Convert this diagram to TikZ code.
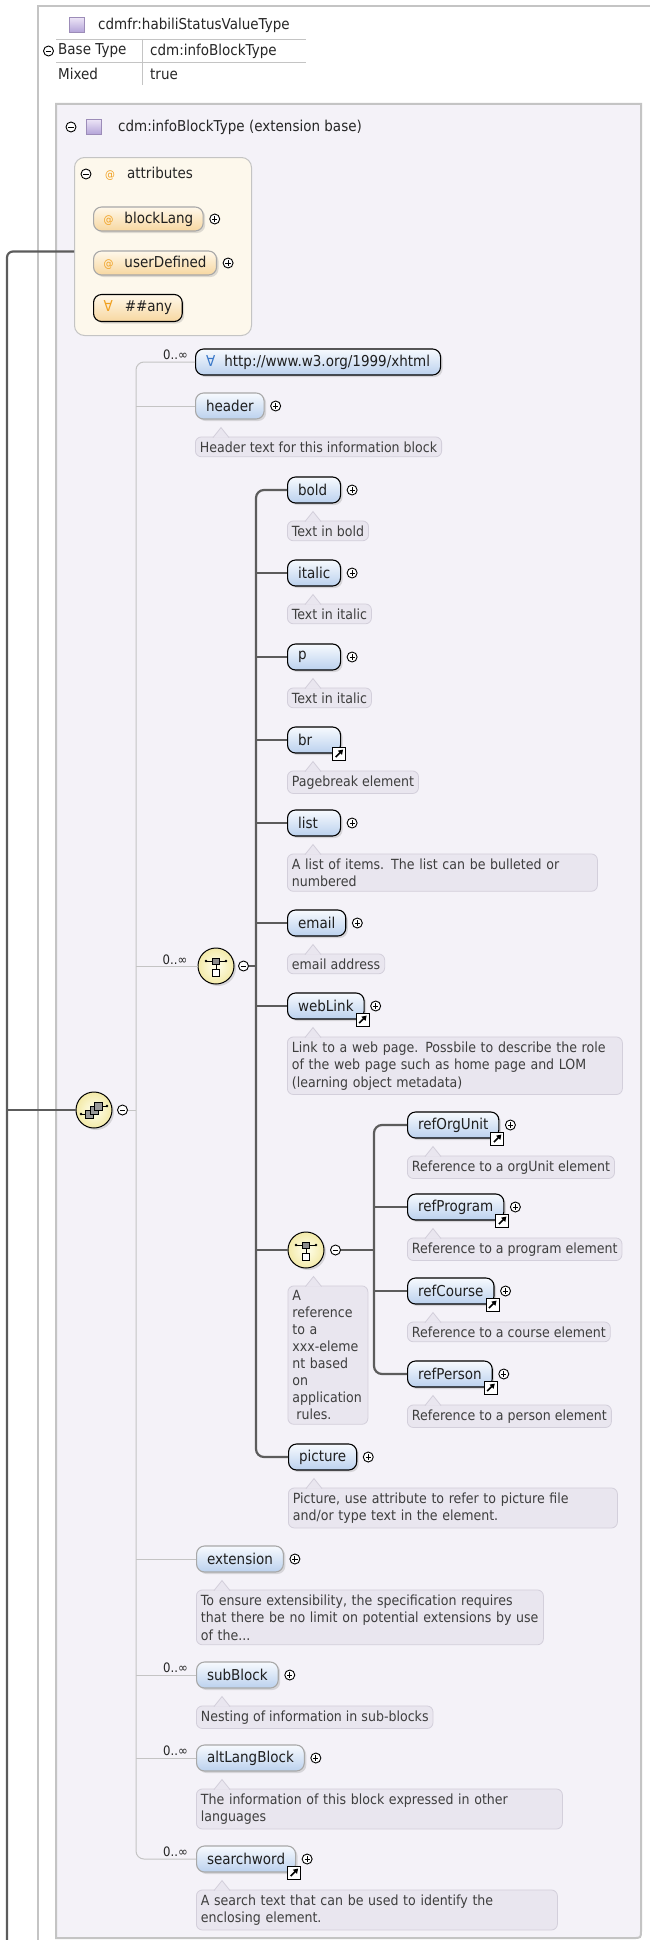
\documentclass[tikz,border=0pt]{standalone}
\usepackage{fontspec}
\setmainfont{DejaVu Sans}[FakeStretch=0.9]
\usetikzlibrary{positioning,shadows,arrows.meta}

\definecolor{innerbg}{HTML}{F4F2F8}
\definecolor{boxgray}{HTML}{C4C4C4}
\definecolor{annobg}{HTML}{E9E6EF}
\definecolor{annoline}{HTML}{D3CFDB}
\definecolor{annotext}{HTML}{3E3E3E}
\definecolor{elemtop}{HTML}{F7FAFE}
\definecolor{elembot}{HTML}{BBD1EE}
\definecolor{optline}{HTML}{A8A8A8}
\definecolor{attrtop}{HTML}{FFF8EA}
\definecolor{attrbot}{HTML}{F7D7A0}
\definecolor{attrbg}{HTML}{FDF8EC}
\definecolor{attrorange}{HTML}{F0A020}
\definecolor{wildblue}{HTML}{3A78C8}
\definecolor{compin}{HTML}{FFFFEE}
\definecolor{compout}{HTML}{F3EAA8}
\definecolor{seqgray}{HTML}{C4C4C4}
\definecolor{chgray}{HTML}{5C5C5C}
\definecolor{typetop}{HTML}{ECE4F6}
\definecolor{typebot}{HTML}{B3A3D8}
\definecolor{typeline}{HTML}{9C8CB8}

\newcommand\elemfont{\fontsize{15}{18}\selectfont}
\newcommand\annofont{\fontsize{14}{17.5}\selectfont}
\newcommand\occfont{\fontsize{13}{15}\selectfont}
\newcommand\atsign{{\fontsize{11}{12}\selectfont\color{attrorange}@}}

\tikzset{
  elem/.style={draw=black, line width=1.1pt, rounded corners=8pt,
    top color=elemtop, bottom color=elembot, minimum height=26pt,
    inner xsep=10.5pt, inner ysep=0pt, anchor=west, font=\elemfont, text=black!88,
    drop shadow={shadow xshift=2pt, shadow yshift=-2pt, opacity=.25}},
  optelem/.style={elem, draw=optline},
  shortlbl/.style={text width=32pt},
  attr/.style={elem, draw=optline, top color=attrtop, bottom color=attrbot,
    minimum height=24pt, inner xsep=10pt},
  anno/.style={draw=annoline, line width=.8pt, fill=annobg, rounded corners=6pt,
    font=\annofont, text=annotext, align=left, inner xsep=4.5pt, inner ysep=4.5pt},
  annotip/.style={fill=annobg, draw=annoline, line width=.8pt},
  compositor/.style={circle, draw=black, line width=1pt, minimum size=36pt, inner sep=0pt,
    inner color=compin, outer color=compout,
    drop shadow={shadow xshift=2pt, shadow yshift=-2pt, opacity=.25}},
  choiceicon/.style={path picture={
    \begin{scope}[shift={(path picture bounding box.center)}]
      \draw[line width=.8pt] (-10pt,5pt) -- (10pt,5pt) (0,2pt) -- (0,-3.5pt);
      \fill (-10pt,5pt) circle (1.3pt) (10pt,5pt) circle (1.3pt);
      \filldraw[fill=black!45, line width=.7pt] (-3.5pt,2pt) rectangle (3.5pt,8pt);
      \filldraw[fill=white, line width=.8pt] (-3.5pt,-3.5pt) rectangle (3.5pt,-10.5pt);
    \end{scope}}},
  seqicon/.style={path picture={
    \begin{scope}[shift={(path picture bounding box.center)}]
      \draw[line width=.8pt] (-13pt,-4pt) -- (-4.5pt,-4pt) (4.5pt,4pt) -- (13pt,4pt);
      \fill (-13pt,-4pt) circle (1.3pt) (13pt,4pt) circle (1.3pt);
      \foreach \d in {-4.5,0,4.5}
        \filldraw[fill=black!40, line width=.6pt] (\d pt-4pt,0.9*\d pt-4pt) rectangle (\d pt+4pt,0.9*\d pt+4pt);
    \end{scope}}},
  plusbtn/.style={circle, draw=black, line width=.9pt, fill=white, minimum size=10pt, inner sep=0pt,
    path picture={\draw[line width=.9pt]
      ([xshift=-2.6pt]path picture bounding box.center) -- ([xshift=2.6pt]path picture bounding box.center)
      ([yshift=-2.6pt]path picture bounding box.center) -- ([yshift=2.6pt]path picture bounding box.center);}},
  minusbtn/.style={circle, draw=black, line width=.9pt, fill=white, minimum size=10pt, inner sep=0pt,
    path picture={\draw[line width=.9pt]
      ([xshift=-2.6pt]path picture bounding box.center) -- ([xshift=2.6pt]path picture bounding box.center);}},
  linkbox/.style={draw=black, line width=.9pt, fill=white, minimum size=13pt, inner sep=0pt,
    path picture={\draw[line width=1.6pt, -{Triangle[length=4.5pt,width=5.5pt]}]
      ([shift={(-3.5pt,-3.5pt)}]path picture bounding box.center) -- ([shift={(4pt,4pt)}]path picture bounding box.center);}},
  typeicon/.style={draw=typeline, line width=.8pt, top color=typetop, bottom color=typebot,
    minimum width=15pt, minimum height=15pt, inner sep=0pt},
  toptext/.style={font=\elemfont, anchor=west, inner sep=0pt, text=black!85},
  occ/.style={font=\occfont, anchor=south east, inner sep=0pt, text=black!85},
  seqline/.style={draw=seqgray, line width=1pt},
  chline/.style={draw=chgray, line width=2.2pt}
}

\begin{document}
\begin{tikzpicture}[x=1pt, y=1pt]
\useasboundingbox (0,0) rectangle (649,-1940);

% frames
\draw[boxgray, line width=1.5pt, fill=white] (38,-6) rectangle (700,-2000);
\draw[boxgray, line width=2pt, fill=innerbg] (56,-104) -- (641,-104) -- (641,-1930)
  .. controls (641,-1938) .. (633,-1938) -- (56,-1938) -- cycle;

% type header and its table
\node[typeicon] (typeIco) at (76.5,-25) {};
\node[toptext] (typeName) at (98,-25) {cdmfr:habiliStatusValueType};
\draw[boxgray, line width=.8pt] (56,-39) -- (306,-39) (56,-62) -- (306,-62) (142,-39) -- (142,-85);
\node[minusbtn] (typeM) at (48.5,-51) {};
\node[toptext] (baseLbl) at (58,-51) {Base Type};
\node[toptext] (baseVal) at (150,-51) {cdm:infoBlockType};
\node[toptext] (mixedLbl) at (58,-74) {Mixed};
\node[toptext] (mixedVal) at (150,-74) {true};
\shade[left color=white, middle color=black!30, right color=white] (41,-89) rectangle (497,-91.5);

% extension base
\node[minusbtn] (extM) at (71,-127) {};
\node[typeicon] (extIco) at (93.5,-127) {};
\node[toptext] (extName) at (118,-127) {cdm:infoBlockType (extension base)};
\shade[left color=innerbg, middle color=black!30, right color=innerbg] (62,-142) rectangle (497,-144.5);

% attributes
\node[draw=boxgray, line width=1pt, fill=attrbg, rounded corners=10pt, minimum width=177pt,
  minimum height=178pt, anchor=north west] (attrs) at (74,-157) {};
\node[minusbtn] (attrsM) at (86,-174) {};
\node[toptext] (attrsLbl) at (105,-174) {\atsign\hspace{12pt}attributes};
\shade[left color=attrbg, middle color=black!25, right color=attrbg] (80,-191) rectangle (210,-193);
\node[attr] (blockLang) at (93,-219) {\atsign\hspace{11pt}blockLang};
\node[attr] (userDefined) at (93,-263) {\atsign\hspace{11pt}userDefined};
\node[attr, draw=black, minimum height=27pt] (anyAttr) at (93,-308) {{\color{attrorange}∀}\hspace{12pt}\#\#any};

% sequence
\node[compositor, seqicon] (seq) at (94,-1110) {};
\node[minusbtn] (seq-m) at ([xshift=10pt]seq.east) {};
\coordinate (seqX) at (136,-1110);
\coordinate (leftX) at (7,-1960);

\node[elem] (xhtml) at (195,-362) {{\color{wildblue}∀}\hspace{9pt}http://www.w3.org/1999/xhtml};
\node[optelem] (header) at (195,-406) {header};

% choice
\node[compositor, choiceicon] (ch1) at (216,-966) {};
\node[minusbtn] (ch1-m) at ([xshift=9pt]ch1.east) {};
\coordinate (chX) at (256,-966);
\node[elem, shortlbl] (bold) at (287,-490) {bold};
\node[elem, shortlbl] (italic) at (287,-573) {italic};
\node[elem, shortlbl] (para) at (287,-657) {p};
\node[elem, shortlbl] (br) at (287,-740) {br};
\node[elem, shortlbl] (list) at (287,-823) {list};
\node[elem] (email) at (287,-923) {email};
\node[elem] (webLink) at (287,-1006) {webLink};

% nested choice
\node[compositor, choiceicon] (ch2) at (306,-1250) {};
\node[minusbtn] (ch2-m) at ([xshift=11pt]ch2.east) {};
\coordinate (ch2X) at (374,-1250);
\coordinate (ch2sw) at (ch2.west |- ch2.south);
\node[elem] (refOrgUnit) at (407,-1125) {refOrgUnit};
\node[elem] (refProgram) at (407,-1207) {refProgram};
\node[elem] (refCourse) at (407,-1291) {refCourse};
\node[elem] (refPerson) at (407,-1374) {refPerson};

\node[elem] (picture) at (288,-1457) {picture};
\node[optelem] (extension) at (196,-1559) {extension};
\node[optelem] (subBlock) at (196,-1675) {subBlock};
\node[optelem] (altLangBlock) at (196,-1758) {altLangBlock};
\node[optelem] (searchword) at (196,-1859) {searchword};

% annotations
\node[anno, below=17pt of header.south west, anchor=north west] (header-a) {Header text for this information block};
\node[anno, below=17pt of bold.south west, anchor=north west] (bold-a) {Text in bold};
\node[anno, below=17pt of italic.south west, anchor=north west] (italic-a) {Text in italic};
\node[anno, below=17pt of para.south west, anchor=north west] (para-a) {Text in italic};
\node[anno, below=17pt of br.south west, anchor=north west] (br-a) {Pagebreak element};
\node[anno, text width=301pt, below=17pt of list.south west, anchor=north west] (list-a)
  {A list of items. The list can be bulleted or\\numbered};
\node[anno, below=17pt of email.south west, anchor=north west] (email-a) {email address};
\node[anno, text width=326pt, below=17pt of webLink.south west, anchor=north west] (webLink-a)
  {Link to a web page. Possbile to describe the role\\of the web page such as home page and LOM\\(learning object metadata)};
\node[anno, below=17pt of refOrgUnit.south west, anchor=north west] (refOrgUnit-a) {Reference to a orgUnit element};
\node[anno, below=17pt of refProgram.south west, anchor=north west] (refProgram-a) {Reference to a program element};
\node[anno, below=17pt of refCourse.south west, anchor=north west] (refCourse-a) {Reference to a course element};
\node[anno, below=17pt of refPerson.south west, anchor=north west] (refPerson-a) {Reference to a person element};
\node[anno, text width=71pt, font=\fontsize{14}{17}\selectfont, below=17pt of ch2sw, anchor=north west] (ch2-a)
  {A\\reference\\to a\\xxx-eleme\\nt based\\on\\application\\\hspace*{4pt}rules.};
\node[anno, text width=320pt, below=17pt of picture.south west, anchor=north west] (picture-a)
  {Picture, use attribute to refer to picture file\\and/or type text in the element.};
\node[anno, text width=338pt, below=17pt of extension.south west, anchor=north west] (extension-a)
  {To ensure extensibility, the specification requires\\that there be no limit on potential extensions by use\\of the...};
\node[anno, below=17pt of subBlock.south west, anchor=north west] (subBlock-a) {Nesting of information in sub-blocks};
\node[anno, text width=357pt, below=17pt of altLangBlock.south west, anchor=north west] (altLangBlock-a)
  {The information of this block expressed in other\\languages};
\node[anno, text width=352pt, below=17pt of searchword.south west, anchor=north west] (searchword-a)
  {A search text that can be used to identify the\\enclosing element.};
\foreach \a in {header-a,bold-a,italic-a,para-a,br-a,list-a,email-a,webLink-a,refOrgUnit-a,
    refProgram-a,refCourse-a,refPerson-a,ch2-a,picture-a,extension-a,subBlock-a,altLangBlock-a,searchword-a}
  \path[annotip] ([xshift=18pt,yshift=-1pt]\a.north west) -- ++(8pt,10pt) -- ++(8pt,-10pt);

% expand buttons and reference marks
\foreach \n in {blockLang,userDefined,header,bold,italic,para,list,email,webLink,refOrgUnit,refProgram,
    refCourse,refPerson,picture,extension,subBlock,altLangBlock,searchword}
  \node[plusbtn] (\n-p) at ([xshift=11pt]\n.east) {};
\foreach \n in {br,webLink,refOrgUnit,refProgram,refCourse,refPerson,searchword}
  \node[linkbox] (\n-l) at ([xshift=-2pt]\n.south east) {};

% occurrences
\node[occ] (xhtml-o) at ([xshift=-7pt,yshift=2pt]xhtml.west) {0..∞};
\node[occ] (ch1-o) at ([xshift=-10pt,yshift=1pt]ch1.west) {0..∞};
\node[occ] (subBlock-o) at ([xshift=-8pt,yshift=2pt]subBlock.west) {0..∞};
\node[occ] (altLangBlock-o) at ([xshift=-8pt,yshift=2pt]altLangBlock.west) {0..∞};
\node[occ] (searchword-o) at ([xshift=-8pt,yshift=2pt]searchword.west) {0..∞};

% connectors
\draw[chline, rounded corners=6pt] ([yshift=-5pt]attrs.west) -| (leftX);
\draw[chline] (seq.west) -- (seq.west -| leftX);
\draw[seqline] (seq-m.east) -- (seqX);
\draw[seqline, rounded corners=8pt] (xhtml.west) -| (seqX) |- (searchword.west);
\foreach \n in {header,ch1,extension,subBlock,altLangBlock}
  \draw[seqline] (\n.west) -- (\n.west -| seqX);
\draw[chline] (ch1-m.east) -- (chX);
\draw[chline, rounded corners=8pt] (bold.west) -| (chX) |- (picture.west);
\foreach \n in {italic,para,br,list,email,webLink,ch2}
  \draw[chline] (\n.west) -- (\n.west -| chX);
\draw[chline] (ch2-m.east) -- (ch2X);
\draw[chline, rounded corners=8pt] (refOrgUnit.west) -| (ch2X) |- (refPerson.west);
\foreach \n in {refProgram,refCourse}
  \draw[chline] (\n.west) -- (\n.west -| ch2X);
\end{tikzpicture}
\end{document}
